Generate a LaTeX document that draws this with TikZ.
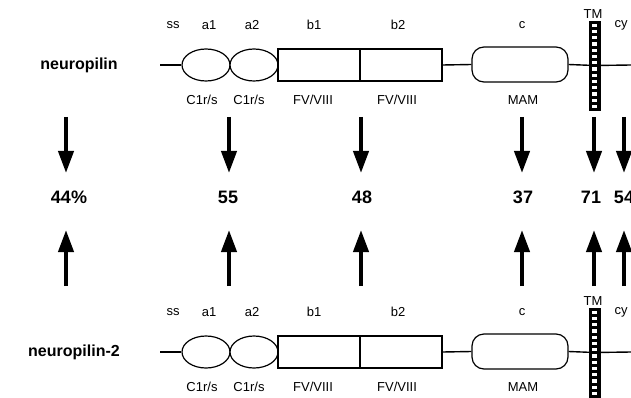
\documentclass[tikz,border=0pt]{standalone}
\usepackage{fontspec}
\setmainfont{Liberation Sans}
\usetikzlibrary{arrows.meta,shapes.geometric}
\newcommand\protrow[2]{%
\begin{scope}[shift={(0,#1)}]
  \coordinate (#2s) at (160,65);
  \coordinate (#2e) at (631,65);
  \node[dom,ellipse,minimum width=48pt,minimum height=32pt] (#2a1) at (206,65) {};
  \node[dom,ellipse,minimum width=48pt,minimum height=32pt] (#2a2) at (254,65) {};
  \node[dom,rectangle,minimum width=82pt,minimum height=32pt] (#2b1) at (319,65) {};
  \node[dom,rectangle,minimum width=82pt,minimum height=32pt] (#2b2) at (401,65) {};
  \node[dom,rectangle,rounded corners=12pt,minimum width=96pt,minimum height=35pt] (#2c) at (520,64.5) {};
  \node[draw,fill=black,line width=0.8pt,minimum width=11pt,minimum height=89pt,inner sep=0pt] (#2tm) at (594.5,65.5) {};
  \foreach \i in {0,...,13} \fill[white] (591.7,23.6+\i*6.25) rectangle ++(5.6,3.3);
  \draw[bb] (#2s) -- (#2a1.west);
  \draw[bb] (#2b2.east) -- (#2c.west);
  \draw[bb] (#2c.east) -- (#2tm.center) -- (#2e);
  \node[lbl] (#2Lss) at (173,25) {ss};
  \node[lbl] (#2La1) at (209,25) {a1};
  \node[lbl] (#2La2) at (252,25) {a2};
  \node[lbl] (#2Lb1) at (314,25) {b1};
  \node[lbl] (#2Lb2) at (398,25) {b2};
  \node[lbl] (#2Lc) at (522,25) {c};
  \node[lbl] (#2Ltm) at (593,14) {TM};
  \node[lbl] (#2Lcy) at (621,25) {cy};
  \node[lbl] (#2Ma1) at (202,100) {C1r/s};
  \node[lbl] (#2Ma2) at (249,100) {C1r/s};
  \node[lbl] (#2Mb1) at (313,100) {FV/VIII};
  \node[lbl] (#2Mb2) at (397,100) {FV/VIII};
  \node[lbl] (#2Mc) at (523,100) {MAM};
\end{scope}}
\begin{document}
\begin{tikzpicture}[x=1pt,y=-1pt,
  dom/.style={draw,line width=1.2pt,fill=white,inner sep=0pt},
  lbl/.style={font=\fontsize{13}{15}\selectfont,inner sep=0pt},
  num/.style={font=\fontsize{18}{20}\selectfont\bfseries,inner sep=0pt},
  pname/.style={font=\fontsize{16}{18}\selectfont\bfseries,inner sep=0pt},
  bb/.style={line width=1.4pt},
  bigarrow/.style={line width=4pt,-{Triangle[length=22pt,width=15pt]}}]
\useasboundingbox (0,0) rectangle (631,398);
\fill[white] (0,0) rectangle (631,398);
\protrow{0}{t}
\protrow{287}{u}
\node[pname] (np1) at (79,65) {neuropilin};
\node[pname] (np2) at (74,352) {neuropilin-2};
\node[num] (n1) at (69,197) {44\%};
\node[num] (n2) at (228,197) {55};
\node[num] (n3) at (362,197) {48};
\node[num] (n4) at (523,197) {37};
\node[num] (n5) at (591,197) {71};
\node[num] (n6) at (624,197) {54};
\foreach \k/\x in {1/66,2/229,3/361,4/522,5/594,6/624}{
  \coordinate (ds\k) at (\x,117);
  \coordinate (de\k) at (\x,173);
  \coordinate (us\k) at (\x,286);
  \coordinate (ue\k) at (\x,230);
  \draw[bigarrow] (ds\k) -- (de\k);
  \draw[bigarrow] (us\k) -- (ue\k);
}
\end{tikzpicture}
\end{document}
